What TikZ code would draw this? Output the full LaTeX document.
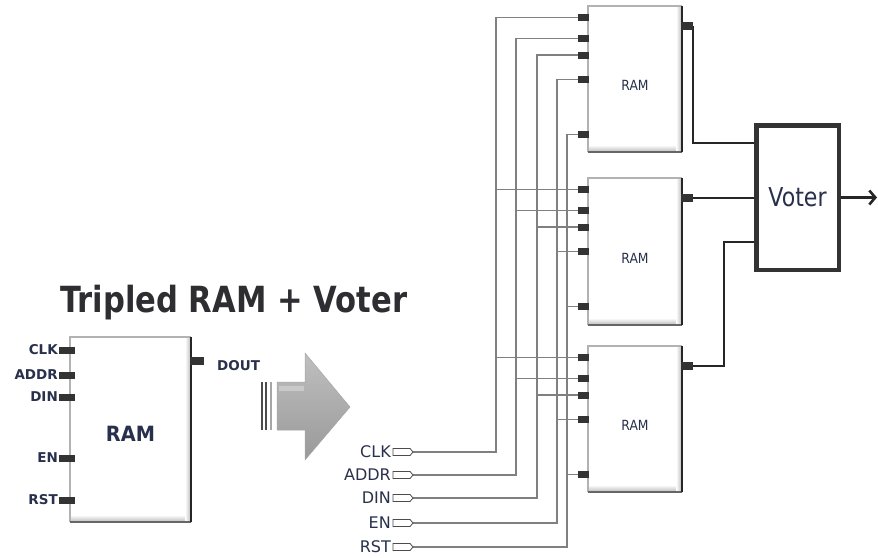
\documentclass[tikz,border=0pt]{standalone}
\usepackage{fontspec}
\usepackage{graphicx}
\setmainfont{DejaVu Sans}
\usetikzlibrary{shapes.symbols,arrows.meta,calc}
\pgfdeclarelayer{bg}
\pgfsetlayers{bg,main}
\definecolor{lbl}{RGB}{40,48,75}
\definecolor{ttl}{RGB}{45,45,50}
\newcommand\ramS{\fontsize{14}{14}\selectfont}
\newcommand\ramL{\bfseries\fontsize{21}{21}\selectfont}
% name, cx, cy, w, h, font, label offset, label text
\newcommand\RamBox[8]{%
  \node[ramfill, minimum width=#4pt, minimum height=#5pt] (#1) at (#2,#3) {};
  \shade[top color=white, bottom color=gray!55] ([yshift=7pt]#1.south west) rectangle (#1.south east);
  \shade[left color=white, right color=gray!55] ([xshift=-6pt]#1.north east) rectangle (#1.south east);
  \draw[gray!60, line width=1.3pt] (#1.south west) -- (#1.north west) -- (#1.north east);
  \draw[black!60, line width=2pt] (#1.south west) -- (#1.south east);
  \draw[black!85, line width=2.6pt] (#1.north east) -- (#1.south east);
  \node[text=lbl, font=#6, inner sep=0pt] (#1-t) at ([yshift=-#7pt]#1.center) {#8};
}
\tikzset{
  ramfill/.style={rectangle, fill=white, inner sep=0pt, outer sep=0pt},
  pinbox/.style={rectangle, fill=black!80, minimum width=11pt, minimum height=7pt, inner sep=0pt, outer sep=0pt},
  opin/.style={pinbox, minimum width=12pt, minimum height=8pt},
  port/.style={signal, signal to=east, draw=black!70, fill=white, line width=0.8pt, minimum width=20pt, minimum height=7pt, inner sep=0pt, outer sep=0pt, signal pointer angle=100},
  plabel/.style={text=lbl, font=\fontsize{16}{16}\selectfont, inner sep=0pt},
  llabel/.style={text=lbl, font=\bfseries\fontsize{13.5}{13.5}\selectfont, inner sep=0pt},
  bus/.style={draw=black!50, line width=1.4pt},
  owire/.style={draw=black!85, line width=1.2pt},
  voterbox/.style={rectangle, draw=black!80, line width=4.5pt, fill=white, minimum width=82.5pt, minimum height=144.5pt, inner sep=0pt, text=lbl, font=\fontsize{26}{26}\selectfont},
}
\begin{document}
\begin{tikzpicture}[x=1pt,y=-1pt]
\useasboundingbox (0,0) rectangle (878,557);

% title
\node[anchor=base west, inner sep=0pt, text=ttl, font=\bfseries\fontsize{36}{36}\selectfont] (title) at (60,312) {\scalebox{0.85}[1]{Tripled RAM + Voter}};

% single RAM block
\RamBox{A}{130.5}{429.5}{121}{185}{\ramL}{4.5}{\scalebox{0.92}[1]{RAM}}
\foreach \s/\y in {CLK/350,ADDR/375,DIN/397,EN/458,RST/500}{
  \node[pinbox, minimum width=16pt, anchor=east] (A-\s) at (75,\y) {};
  \node[llabel, anchor=east] (AL-\s) at ([xshift=-1pt]A-\s.west) {\s};
}
\node[opin, minimum width=14pt, anchor=west] (A-OUT) at (190,361) {};
\node[llabel, anchor=west] (AL-OUT) at (217,366) {DOUT};

% big arrow
\shade[top color=gray!50, bottom color=gray!80, draw=gray!70, line width=0.5pt]
  (277,382) -- (305,382) -- (305,353) -- (350,407) -- (305,460) -- (305,430) -- (277,430) -- cycle;
\fill[white, opacity=0.3] (279,386) rectangle (304,391);
\draw[black!70, line width=1.2pt] (262,382) -- (262,430);
\draw[black!70, line width=1.2pt] (266,382) -- (266,430);
\draw[gray!70, line width=1.5pt] (271,382) -- (271,430);

% tripled RAM blocks
\RamBox{R1}{635}{79}{94}{146}{\ramS}{6.5}{\scalebox{0.88}[1]{RAM}}
\RamBox{R2}{635}{251.5}{94}{147}{\ramS}{6.5}{\scalebox{0.88}[1]{RAM}}
\RamBox{R3}{635}{419}{94}{146}{\ramS}{6.5}{\scalebox{0.88}[1]{RAM}}
\foreach \b/\t in {1/6,2/178,3/346}{
  \foreach \s/\o in {CLK/11.5,ADDR/32.5,DIN/49,EN/73.5,RST/128.5}{
    \node[pinbox, anchor=east] (R\b-\s) at (589,\t+\o) {};
  }
  \node[opin, anchor=west] (R\b-OUT) at (681,\t+20) {};
}

% input ports
\foreach \s/\y in {CLK/452,ADDR/475,DIN/498,EN/523,RST/547}{
  \node[port, anchor=west] (P-\s) at (393,\y) {};
  \node[plabel, anchor=east] (PL-\s) at (391,\y) {\s};
}

% voter
\node[voterbox] (V) at (797.5,197.5) {\scalebox{0.85}[1]{Voter}};
\coordinate (Vin1) at (754,143);
\coordinate (Vin3) at (754,242);
\coordinate (Vbend) at (724,0);
\coordinate (Vout) at (877,197.5);

\begin{pgfonlayer}{bg}
\foreach \s/\xx in {CLK/496,ADDR/516,DIN/537,EN/557,RST/567}{
  \coordinate (x\s) at (\xx,0);
  \draw[bus] (P-\s.east) -- (P-\s.east -| x\s) |- (R1-\s.west);
  \draw[bus] (R2-\s.west -| x\s) -- (R2-\s.west);
  \draw[bus] (R3-\s.west -| x\s) -- (R3-\s.west);
}
\draw[owire] (R1-OUT.east) |- (Vin1);
\draw[owire] (R2-OUT.east) -- (R2-OUT.east -| V.west);
\draw[owire] (R3-OUT.east) -| (Vbend |- Vin3) -- (Vin3);
\end{pgfonlayer}
\draw[line width=2.6pt, black!85, -{Straight Barb[length=6pt,width=14pt]}] (V.east) -- (Vout);
\end{tikzpicture}
\end{document}
